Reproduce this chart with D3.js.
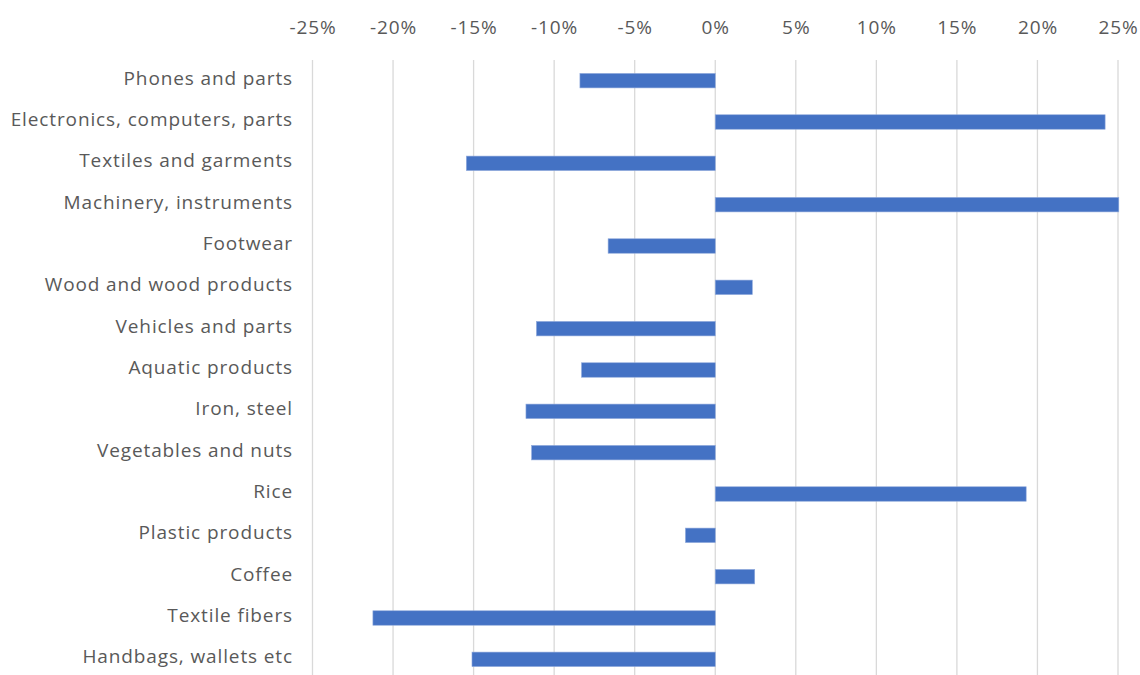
<!DOCTYPE html>
<html>
<head>
<meta charset="utf-8">
<script src="https://cdn.jsdelivr.net/npm/d3@7"></script>
<style>
  html, body { margin: 0; padding: 0; background: #fff; }
  svg { display: block; }
  text { font-family: "Open Sans", sans-serif; fill: #595959; }
</style>
</head>
<body>
<svg id="chart" width="1140" height="675"></svg>
<script>
const categories = [
  "Phones and parts",
  "Electronics, computers, parts",
  "Textiles and garments",
  "Machinery, instruments",
  "Footwear",
  "Wood and wood products",
  "Vehicles and parts",
  "Aquatic products",
  "Iron, steel",
  "Vegetables and nuts",
  "Rice",
  "Plastic products",
  "Coffee",
  "Textile fibers",
  "Handbags, wallets etc"
];
const values = [-8.4, 24.2, -15.45, 25.05, -6.65, 2.3, -11.1, -8.3, -11.75, -11.4, 19.3, -1.85, 2.45, -21.25, -15.1];
const tickValues = [-25, -20, -15, -10, -5, 0, 5, 10, 15, 20, 25];

const svg = d3.select("#chart");
const x = d3.scaleLinear().domain([-25, 25]).range([312.5, 1118]);
const y = d3.scaleBand().domain(categories).range([60, 680]).paddingInner(0.65).paddingOuter(0.325);

// gridlines
svg.append("g").selectAll("line").data(tickValues).join("line")
  .attr("x1", d => x(d)).attr("x2", d => x(d))
  .attr("y1", 60).attr("y2", 680)
  .attr("stroke", "#d9d9d9").attr("stroke-width", 1.3);

// top axis labels
const xAxis = d3.axisTop(x).tickValues(tickValues).tickFormat(d => d + "%").tickSize(0).tickPadding(0);
const gx = svg.append("g").attr("transform", "translate(0,34)").call(xAxis);
gx.select(".domain").remove();
gx.selectAll("text").attr("font-size", 19).attr("fill", "#595959")
  .attr("letter-spacing", 0.9)
  .style("font-family", "'Open Sans', sans-serif");

// category labels
const yAxis = d3.axisLeft(y).tickSize(0).tickPadding(0);
const gy = svg.append("g").attr("transform", "translate(293,-2)").call(yAxis);
gy.select(".domain").remove();
gy.selectAll("text").attr("font-size", 19).attr("fill", "#595959")
  .attr("letter-spacing", 0.88)
  .style("font-family", "'Open Sans', sans-serif");

// bars
svg.append("g").selectAll("rect").data(values).join("rect")
  .attr("x", d => x(Math.min(0, d)))
  .attr("width", d => Math.abs(x(d) - x(0)))
  .attr("y", (d, i) => y(categories[i]))
  .attr("height", y.bandwidth())
  .attr("fill", "#4472c4")
  .attr("stroke", "#8fa9dc").attr("stroke-width", 0.6);
</script>
</body>
</html>
